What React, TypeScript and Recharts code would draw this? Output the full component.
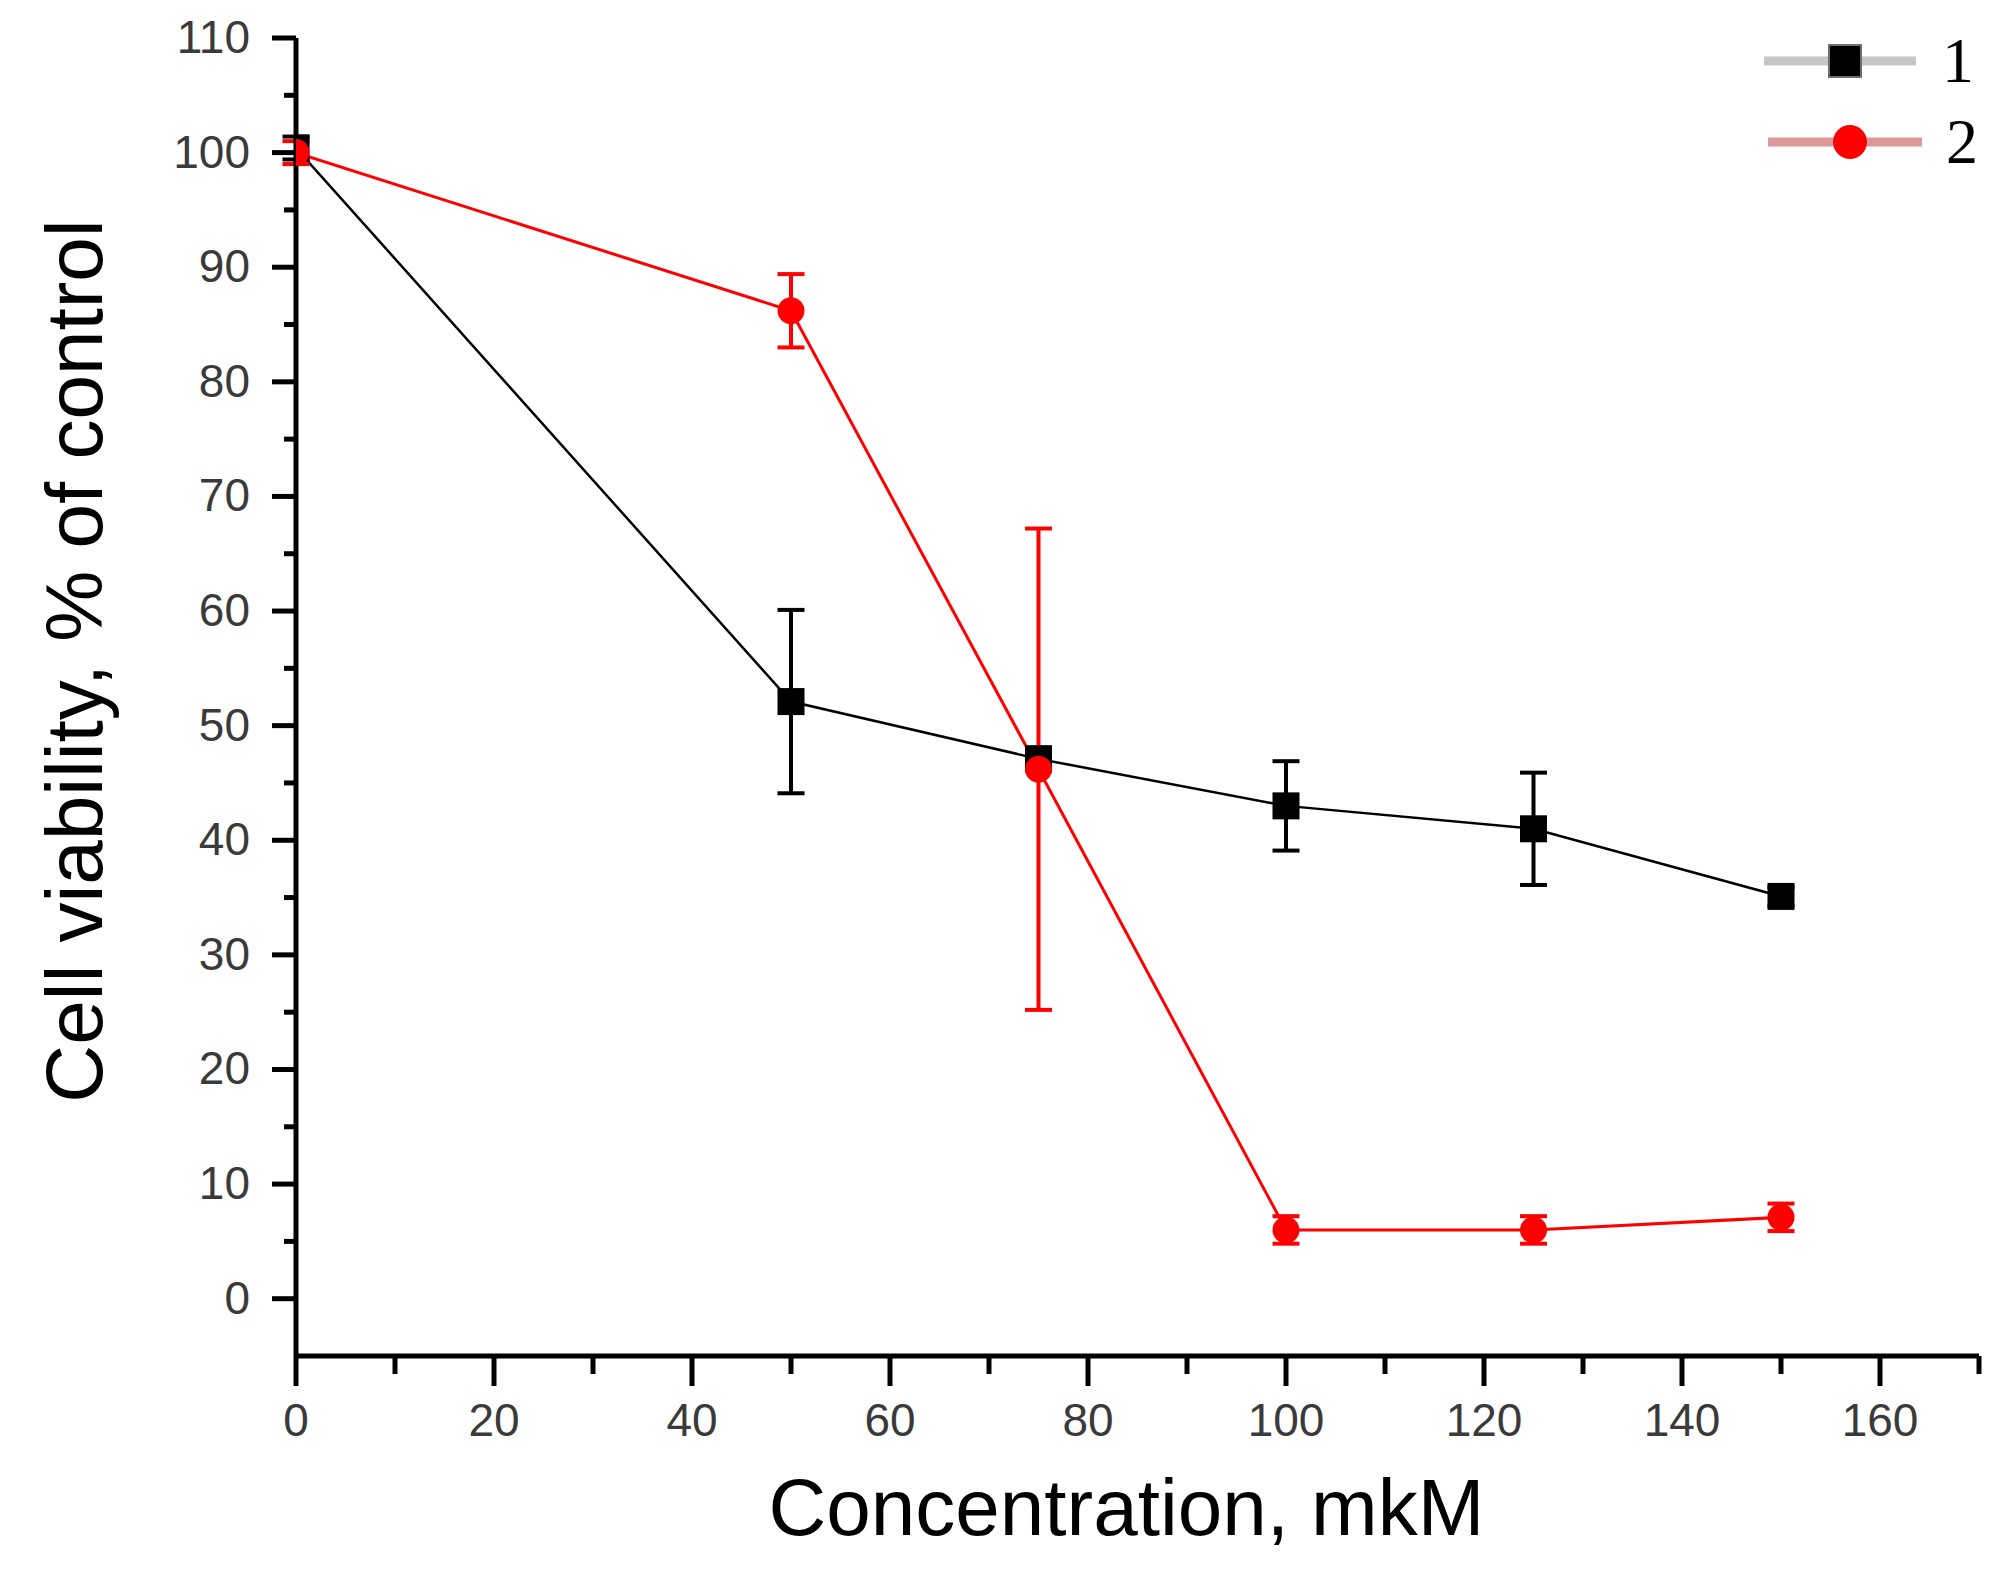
import React from 'react';
import { LineChart, Line, XAxis, YAxis, ErrorBar, Legend } from 'recharts';

// concentration, mkM
const concentrations = [0, 50, 75, 100, 125, 150];
// series 1 (black squares)
const viability1 = [100.4, 52.1, 47.1, 43.0, 41.0, 35.1];
const error1 = [1, 8, 1, 3.9, 4.9, 0.8];
// series 2 (red circles)
const viability2 = [100, 86.2, 46.2, 6.0, 6.0, 7.1];
const error2 = [1, 3.2, 21, 1.2, 1.2, 1.2];

const xTicks = [0, 10, 20, 30, 40, 50, 60, 70, 80, 90, 100, 110, 120, 130, 140, 150, 160, 170];
const yTicks = [0, 5, 10, 15, 20, 25, 30, 35, 40, 45, 50, 55, 60, 65, 70, 75, 80, 85, 90, 95, 100, 105, 110];

const seriesNames = ['1', '2'];
const seriesColors = ['#000000', '#ff0000'];
const legendLineColors = ['#c6c6c6', '#dc9898'];

const data = concentrations.map((c, i) => ({
  c,
  s1: viability1[i],
  e1: error1[i],
  s2: viability2[i],
  e2: error2[i],
}));

const SANS = '"Liberation Sans", Arial, sans-serif';
const SERIF = '"Liberation Serif", "Times New Roman", serif';

const MARGIN = { top: 30, right: 6, bottom: 0, left: 0 };
const Y_AXIS_WIDTH = 288;
// left edge of the plot area, markers are clipped there like in the original
const PLOT_LEFT = MARGIN.left + Y_AXIS_WIDTH;

const XTick = (props: any) => {
  const { x, y, payload } = props;
  const v = payload.value;
  const major = v % 20 === 0;
  return (
    <g>
      <line x1={x} x2={x} y1={y} y2={y + (major ? 30 : 18)} stroke="#000" strokeWidth={5} />
      {major && (
        <text x={x} y={y + 80} textAnchor="middle" fontFamily={SANS} fontSize={46} fill="#3a3a3a">
          {v}
        </text>
      )}
    </g>
  );
};

const YTick = (props: any) => {
  const { x, y, payload } = props;
  const v = payload.value;
  const major = v % 10 === 0;
  return (
    <g>
      <line x1={x} x2={x - (major ? 24 : 12)} y1={y} y2={y} stroke="#000" strokeWidth={5} />
      {major && (
        <text x={x - 46} y={y + 15} textAnchor="end" fontFamily={SANS} fontSize={46} fill="#3a3a3a">
          {v}
        </text>
      )}
    </g>
  );
};

const XTitle = (props: any) => {
  const { viewBox } = props;
  return (
    <text
      x={viewBox.x + viewBox.width / 2 - 11}
      y={viewBox.y + 179}
      textAnchor="middle"
      fontFamily={SANS}
      fontSize={80}
      fill="#000"
    >
      Concentration, mkM
    </text>
  );
};

const YTitle = (props: any) => {
  const { viewBox } = props;
  const tx = viewBox.x + 94;
  const ty = viewBox.y + viewBox.height / 2 - 36;
  return (
    <text
      x={tx}
      y={ty}
      transform={`rotate(-90, ${tx}, ${ty})`}
      textAnchor="middle"
      fontFamily={SANS}
      fontSize={80}
      fill="#000"
    >
      Cell viability, % of control
    </text>
  );
};

const Marker = (props: any) => {
  const { cx, cy, index, shape, color } = props;
  if (cx == null || cy == null) return <g />;
  const id = `mk-clip-${shape}-${index}`;
  return (
    <g>
      <defs>
        <clipPath id={id}>
          <rect x={PLOT_LEFT} y={0} width={100000} height={100000} />
        </clipPath>
      </defs>
      <g clipPath={`url(#${id})`}>
        {shape === 'square' ? (
          <rect x={cx - 13.5} y={cy - 13.5} width={27} height={27} fill={color} />
        ) : (
          <circle cx={cx} cy={cy} r={13.5} fill={color} />
        )}
      </g>
    </g>
  );
};

const LegendBox = (props: any) => {
  const items = props.payload || [];
  return (
    <svg width={235} height={160} style={{ display: 'block' }}>
      {items.map((item: any, i: number) => {
        const rowY = 41 + i * 81;
        return (
          <g key={`leg-${i}`}>
            <line x1={14 + i * 4} x2={166 + i * 6} y1={rowY} y2={rowY} stroke={legendLineColors[i]} strokeWidth={9} />
            {i === 0 ? (
              <rect x={95 - 16} y={rowY - 16} width={32} height={32} fill="#000" stroke="#6e6e6e" strokeWidth={2} />
            ) : (
              <circle cx={100} cy={rowY} r={17} fill={item.color} />
            )}
            <text x={192 + i * 4} y={rowY + 21} fontFamily={SERIF} fontSize={64} fill="#000">
              {item.value}
            </text>
          </g>
        );
      })}
    </svg>
  );
};

export default function App() {
  return (
    <div style={{ width: 1977, height: 1554, background: '#fff' }}>
      <LineChart width={1977} height={1554} data={data} margin={MARGIN}>
        <XAxis
          dataKey="c"
          type="number"
          domain={[0, 170]}
          ticks={xTicks}
          interval={0}
          allowDataOverflow
          height={206}
          tickSize={0}
          tickMargin={0}
          tickLine={false}
          tick={<XTick />}
          axisLine={{ stroke: '#000', strokeWidth: 5 }}
          label={<XTitle />}
        />
        <YAxis
          type="number"
          domain={[-5, 110]}
          ticks={yTicks}
          interval={0}
          allowDataOverflow
          width={Y_AXIS_WIDTH}
          tickSize={0}
          tickMargin={0}
          tickLine={false}
          tick={<YTick />}
          axisLine={{ stroke: '#000', strokeWidth: 5 }}
          label={<YTitle />}
        />
        <Line
          dataKey="s1"
          name={seriesNames[0]}
          stroke={seriesColors[0]}
          strokeWidth={2.5}
          dot={(p: any) => <Marker key={`d1-${p.index}`} cx={p.cx} cy={p.cy} index={p.index} shape="square" color={seriesColors[0]} />}
          activeDot={false}
          isAnimationActive={false}
        >
          <ErrorBar dataKey="e1" width={13.5} stroke={seriesColors[0]} strokeWidth={4} direction="y" isAnimationActive={false} />
        </Line>
        <Line
          dataKey="s2"
          name={seriesNames[1]}
          stroke={seriesColors[1]}
          strokeWidth={3}
          dot={(p: any) => <Marker key={`d2-${p.index}`} cx={p.cx} cy={p.cy} index={p.index} shape="circle" color={seriesColors[1]} />}
          activeDot={false}
          isAnimationActive={false}
        >
          <ErrorBar dataKey="e2" width={13.5} stroke={seriesColors[1]} strokeWidth={4} direction="y" isAnimationActive={false} />
        </Line>
        <Legend
          layout="horizontal"
          align="center"
          verticalAlign="middle"
          content={LegendBox}
          wrapperStyle={{ left: 1742, top: 12, width: 235, height: 160 }}
        />
      </LineChart>
    </div>
  );
}
